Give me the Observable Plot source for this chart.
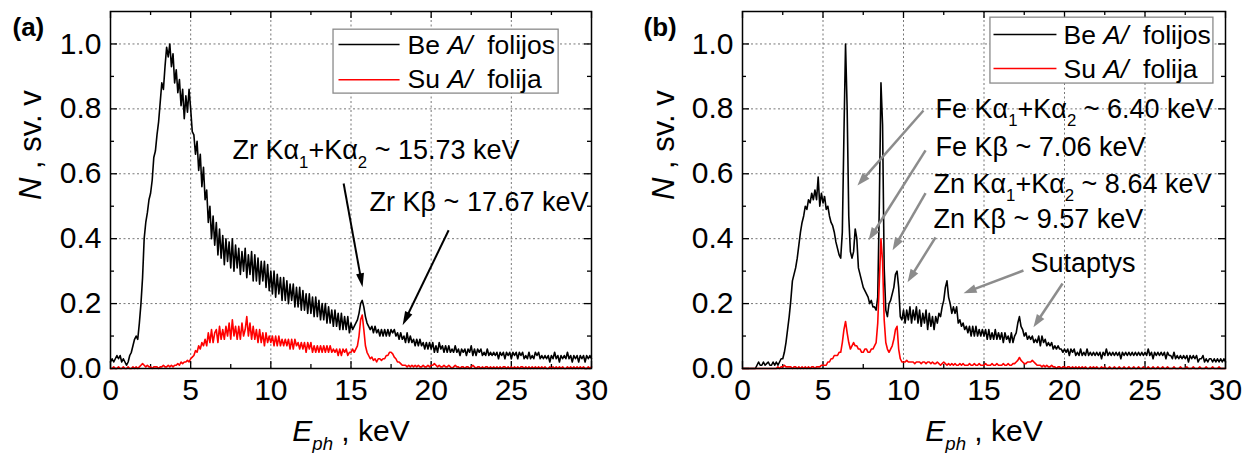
<!DOCTYPE html>
<html><head><meta charset="utf-8">
<script src="https://cdn.jsdelivr.net/npm/d3@7"></script>
<script src="https://cdn.jsdelivr.net/npm/@observablehq/plot@0.6"></script>
<style>
body{margin:0;background:#fff;}
#wrap{display:flex;width:1253px;height:453px;overflow:hidden;}
g[aria-label$="tick label"] text{font-size:30px;}
</style></head><body><div id="wrap"></div>
<script>
// energy step of the spectra (keV), first channel at 0 keV
const dE = 0.1;

// Panel (a): spectra, 0.0 ... 30.0 keV
const aBe = [
0.02,0.03,0.02,0.03,0.04,0.03,0.04,0.02,0.03,0.02,
0.01,0.02,0.04,0.05,0.07,0.09,0.10,0.09,0.14,0.20,
0.28,0.40,0.45,0.48,0.52,0.54,0.58,0.65,0.67,0.72,
0.76,0.82,0.88,0.86,0.93,0.99,0.96,1.00,0.93,0.97,
0.88,0.92,0.85,0.89,0.81,0.86,0.77,0.84,0.79,0.86,
0.80,0.73,0.72,0.66,0.70,0.61,0.66,0.56,0.62,0.52,
0.55,0.45,0.50,0.40,0.47,0.38,0.45,0.35,0.43,0.34,
0.41,0.32,0.40,0.33,0.39,0.31,0.40,0.30,0.38,0.31,
0.37,0.29,0.36,0.30,0.37,0.28,0.35,0.29,0.36,0.27,
0.35,0.27,0.34,0.26,0.33,0.27,0.33,0.25,0.32,0.24,
0.30,0.23,0.30,0.22,0.29,0.23,0.28,0.21,0.28,0.21,
0.27,0.20,0.26,0.21,0.26,0.19,0.25,0.19,0.25,0.18,
0.24,0.18,0.23,0.17,0.23,0.17,0.22,0.16,0.22,0.16,
0.21,0.15,0.20,0.15,0.20,0.14,0.19,0.14,0.18,0.13,
0.18,0.13,0.17,0.12,0.17,0.12,0.16,0.12,0.16,0.11,
0.14,0.12,0.13,0.14,0.15,0.17,0.20,0.21,0.19,0.16,
0.14,0.13,0.12,0.13,0.11,0.13,0.11,0.12,0.10,0.12,
0.10,0.12,0.10,0.12,0.10,0.12,0.11,0.12,0.10,0.11,
0.09,0.11,0.09,0.10,0.08,0.11,0.08,0.10,0.08,0.09,
0.07,0.09,0.07,0.09,0.07,0.08,0.06,0.08,0.06,0.08,
0.06,0.08,0.05,0.07,0.05,0.08,0.06,0.07,0.05,0.07,
0.05,0.07,0.05,0.06,0.05,0.07,0.05,0.06,0.04,0.06,
0.05,0.06,0.04,0.06,0.05,0.07,0.04,0.06,0.04,0.06,
0.05,0.06,0.04,0.05,0.04,0.06,0.04,0.05,0.04,0.05,
0.04,0.05,0.03,0.05,0.04,0.05,0.03,0.05,0.04,0.05,
0.03,0.05,0.04,0.05,0.03,0.05,0.04,0.05,0.03,0.04,
0.03,0.05,0.03,0.04,0.03,0.05,0.04,0.05,0.03,0.04,
0.03,0.04,0.03,0.04,0.02,0.04,0.03,0.05,0.03,0.04,
0.02,0.04,0.03,0.04,0.03,0.05,0.03,0.04,0.02,0.04,
0.03,0.04,0.02,0.04,0.03,0.04,0.02,0.04,0.03,0.04,
0.03];
const aSu = [
0,0,0.005,0,0,0.005,0,0,0.005,0,
0,0.005,0,0,0.005,0,0.005,0,0.005,0.01,
0.015,0.01,0.005,0.01,0.005,0.005,0,0.005,0.005,0.005,
0,0.005,0.005,0.01,0.005,0.005,0.01,0.005,0.01,0.005,
0.01,0.01,0.015,0.01,0.02,0.015,0.02,0.02,0.025,0.02,
0.03,0.035,0.04,0.055,0.05,0.07,0.06,0.08,0.07,0.09,
0.07,0.11,0.08,0.12,0.08,0.11,0.12,0.08,0.13,0.09,
0.12,0.09,0.13,0.10,0.14,0.09,0.15,0.10,0.13,0.09,
0.13,0.09,0.14,0.10,0.12,0.16,0.10,0.14,0.09,0.13,
0.09,0.12,0.08,0.12,0.08,0.11,0.07,0.11,0.08,0.10,
0.08,0.10,0.07,0.10,0.07,0.10,0.07,0.09,0.07,0.09,
0.07,0.09,0.06,0.09,0.06,0.09,0.07,0.08,0.06,0.08,
0.06,0.08,0.05,0.08,0.06,0.08,0.05,0.07,0.05,0.07,
0.05,0.07,0.05,0.07,0.05,0.07,0.05,0.07,0.05,0.06,
0.05,0.06,0.04,0.06,0.04,0.06,0.05,0.06,0.04,0.05,
0.05,0.06,0.05,0.06,0.07,0.10,0.15,0.165,0.12,0.07,
0.05,0.04,0.03,0.035,0.025,0.03,0.02,0.03,0.03,0.025,
0.03,0.03,0.04,0.04,0.05,0.05,0.045,0.035,0.03,0.02,
0.02,0.015,0.01,0.01,0.01,0.005,0.01,0.005,0.01,0.005,
0.01,0.005,0.01,0.005,0.005,0.01,0.005,0.005,0.01,0.005,
0.01,0.01,0.015,0.01,0.005,0.01,0.005,0.005,0.01,0.005,
0.005,0.01,0.005,0,0.005,0.01,0.005,0.005,0,0.005,
0.005,0,0.005,0.005,0,0.005,0.01,0.005,0,0.005,
0.005,0,0.005,0,0.005,0.005,0,0.005,0,0.005,
0,0.005,0,0.005,0,0.005,0.005,0,0.005,0,
0.005,0,0.005,0,0.005,0,0.005,0.005,0,0.005,
0,0.005,0,0.005,0,0.005,0,0.005,0,0.005,
0,0.005,0,0,0.005,0,0.005,0,0.005,0,
0.005,0,0.005,0,0,0.005,0,0.005,0,0.005,
0,0.005,0,0.005,0,0.005,0,0,0.005,0,
0.005];

// Panel (b): spectra, 0.0 ... 30.0 keV
const bBe = [
0,0,0,0,0,0,0,0,0,0.01,
0.02,0.01,0.01,0.02,0.01,0.015,0.02,0.01,0.01,0.02,
0.01,0.02,0.01,0.02,0.03,0.03,0.05,0.08,0.12,0.16,
0.21,0.27,0.29,0.31,0.34,0.38,0.42,0.45,0.47,0.50,
0.49,0.52,0.51,0.54,0.52,0.55,0.52,0.59,0.50,0.54,
0.51,0.53,0.49,0.50,0.47,0.45,0.44,0.42,0.39,0.37,
0.35,0.34,0.42,0.72,1.00,0.80,0.47,0.36,0.34,0.36,
0.43,0.40,0.31,0.29,0.27,0.25,0.24,0.23,0.22,0.20,
0.21,0.19,0.19,0.18,0.22,0.51,0.88,0.75,0.31,0.18,
0.16,0.20,0.21,0.23,0.25,0.29,0.30,0.25,0.16,0.15,
0.18,0.14,0.18,0.15,0.19,0.14,0.18,0.15,0.19,0.14,
0.18,0.13,0.17,0.14,0.18,0.12,0.17,0.13,0.16,0.12,
0.16,0.14,0.17,0.16,0.19,0.21,0.25,0.27,0.22,0.20,
0.17,0.19,0.17,0.19,0.14,0.15,0.13,0.14,0.12,0.13,
0.11,0.13,0.10,0.13,0.10,0.13,0.10,0.12,0.10,0.12,
0.10,0.12,0.09,0.12,0.09,0.11,0.09,0.12,0.09,0.11,
0.09,0.11,0.08,0.11,0.09,0.10,0.08,0.11,0.08,0.10,
0.11,0.14,0.16,0.13,0.12,0.10,0.11,0.09,0.10,0.09,
0.10,0.08,0.09,0.08,0.10,0.07,0.10,0.08,0.09,0.07,
0.08,0.07,0.08,0.06,0.07,0.06,0.07,0.06,0.06,0.05,
0.06,0.05,0.06,0.04,0.06,0.05,0.06,0.04,0.05,0.04,
0.06,0.04,0.05,0.04,0.06,0.04,0.05,0.04,0.05,0.04,
0.05,0.04,0.05,0.03,0.05,0.04,0.06,0.04,0.05,0.04,
0.05,0.04,0.05,0.04,0.05,0.03,0.05,0.04,0.05,0.04,
0.05,0.04,0.05,0.04,0.05,0.04,0.05,0.04,0.05,0.04,
0.05,0.04,0.06,0.04,0.05,0.03,0.05,0.04,0.05,0.04,
0.05,0.04,0.05,0.03,0.05,0.04,0.04,0.03,0.05,0.03,
0.04,0.03,0.04,0.03,0.04,0.03,0.04,0.02,0.04,0.03,
0.04,0.03,0.04,0.02,0.03,0.03,0.04,0.02,0.03,0.02,
0.03,0.03,0.02,0.03,0.02,0.03,0.02,0.03,0.02,0.03,
0.02];
const bSu = [
0,0,0,0,0,0,0,0,0,0,
0,0,0,0,0,0,0,0,0,0,
0,0,0.005,0,0.005,0.005,0.01,0.005,0.005,0.005,
0.005,0,0.005,0.005,0,0.005,0,0.005,0,0.005,
0,0.005,0,0.005,0.005,0,0.005,0.005,0.005,0.01,
0.01,0.01,0.01,0.02,0.02,0.03,0.03,0.04,0.04,0.04,
0.05,0.05,0.08,0.12,0.145,0.11,0.08,0.06,0.07,0.08,
0.07,0.07,0.06,0.06,0.05,0.05,0.06,0.06,0.05,0.05,
0.06,0.06,0.07,0.08,0.14,0.27,0.40,0.33,0.15,0.08,
0.06,0.05,0.06,0.07,0.09,0.12,0.13,0.06,0.03,0.02,
0.02,0.02,0.025,0.02,0.02,0.02,0.02,0.015,0.02,0.02,
0.02,0.015,0.02,0.02,0.015,0.02,0.02,0.015,0.02,0.015,
0.015,0.02,0.015,0.01,0.015,0.02,0.015,0.01,0.015,0.01,
0.015,0.01,0.015,0.01,0.01,0.015,0.01,0.015,0.01,0.01,
0.01,0.015,0.01,0.01,0.015,0.01,0.01,0.015,0.01,0.01,
0.01,0.015,0.01,0.01,0.01,0.015,0.01,0.01,0.015,0.01,
0.01,0.01,0.015,0.01,0.01,0.015,0.01,0.01,0.015,0.015,
0.02,0.025,0.034,0.025,0.02,0.015,0.015,0.02,0.02,0.02,
0.025,0.02,0.015,0.01,0.01,0.01,0.005,0.01,0.005,0.01,
0.005,0.005,0.01,0.005,0.005,0,0.005,0.005,0,0.005,
0.005,0,0.005,0.005,0,0.005,0,0.005,0,0.005,
0,0.005,0,0.005,0,0,0.005,0,0.005,0,
0.005,0,0,0.005,0,0.005,0,0,0.005,0,
0,0.005,0,0,0.005,0,0,0.005,0,0,
0.005,0,0,0.005,0,0,0.005,0,0,0.005,
0,0,0.005,0,0,0.005,0,0,0.005,0,
0,0.005,0,0,0.005,0,0,0,0.005,0,
0,0,0.005,0,0,0,0.005,0,0,0,
0.005,0,0,0,0.005,0,0,0,0.005,0,
0,0,0.005,0,0,0,0.005,0,0,0,
0];

// ticks
const xMajor = [0, 5, 10, 15, 20, 25, 30];
const xMinor = [2.5, 7.5, 12.5, 17.5, 22.5, 27.5];
const xGrid = [5, 10, 15, 20, 25];
const yMajor = [0, 0.2, 0.4, 0.6, 0.8, 1.0];
const yMinor = [0.1, 0.3, 0.5, 0.7, 0.9];
const yGrid = [0.2, 0.4, 0.6, 0.8, 1.0];

// texts  ({/x} italic, {_x} subscript, {_/x} italic subscript)
const legendLabels = ["Be {/A/}  folijos", "Su {/A/}  folija"];
const xTitle = "{/E}{_/ph} , keV";
const yTitle = "{/N} , sv. v";

// annotations (in keV / N units)
const notesA = [
  {x: 7.61, y: 0.644, t: "Zr Kα{_1}+Kα{_2} ~ 15.73 keV"},
  {x: 16.16, y: 0.484, t: "Zr Kβ ~ 17.67 keV"}
];
const arrowsA = [
  {x1: 14.54, y1: 0.570, x2: 15.72, y2: 0.250},
  {x1: 21.09, y1: 0.426, x2: 18.22, y2: 0.133}
];
const notesB = [
  {x: 11.99, y: 0.773, t: "Fe Kα{_1}+Kα{_2} ~ 6.40 keV"},
  {x: 11.99, y: 0.656, t: "Fe Kβ ~ 7.06 keV"},
  {x: 11.86, y: 0.542, t: "Zn Kα{_1}+Kα{_2} ~ 8.64 keV"},
  {x: 11.86, y: 0.432, t: "Zn Kβ ~ 9.57 keV"},
  {x: 17.89, y: 0.296, t: "Sutaptys"}
];
const arrowsB = [
  {x1: 11.24, y1: 0.795, x2: 7.14, y2: 0.564},
  {x1: 11.37, y1: 0.672, x2: 7.83, y2: 0.395},
  {x1: 11.37, y1: 0.540, x2: 9.32, y2: 0.364},
  {x1: 11.99, y1: 0.404, x2: 10.25, y2: 0.266},
  {x1: 17.45, y1: 0.302, x2: 13.73, y2: 0.232},
  {x1: 19.88, y1: 0.262, x2: 18.07, y2: 0.127}
];

const FONT = "'Liberation Sans', Arial, sans-serif";

function richText(svg) {
  svg.querySelectorAll("text").forEach(t => {
    const s = t.textContent;
    if (!s.includes("{")) return;
    t.textContent = "";
    t.style.whiteSpace = "pre";
    const re = /\{(_?)(\/?)([^}]*)\}|([^{]+)/g;
    let m, shifted = false;
    while ((m = re.exec(s))) {
      const ts = document.createElementNS("http://www.w3.org/2000/svg", "tspan");
      const plain = m[4] !== undefined;
      const isSub = !plain && m[1] === "_";
      ts.textContent = plain ? m[4] : m[3];
      if (!plain && m[2] === "/") ts.setAttribute("font-style", "italic");
      if (isSub) ts.setAttribute("font-size", "62%");
      if (isSub && !shifted) { ts.setAttribute("dy", "0.5em"); shifted = true; }
      else if (!isSub && shifted) { ts.setAttribute("dy", "-0.31em"); shifted = false; }
      t.appendChild(ts);
    }
  });
}

function panel(o) {
  const H = 453, mt = 11, mb = 85;
  const innerW = o.width - o.ml - o.mr, innerH = H - mt - mb;
  const kx = innerW / 30, ky = innerH / 1.1;
  const be = o.be.map((v, i) => ({E: i * dE, N: v}));
  const su = o.su.map((v, i) => ({E: i * dE, N: v}));
  const L = o.headL, Wd = o.headW;
  const head = {draw(ctx) { ctx.moveTo(0, 0); ctx.lineTo(-Wd / 2, L); ctx.lineTo(Wd / 2, L); ctx.closePath(); }};
  const arr = o.arrows.map(a => {
    const sx = (a.x2 - a.x1) * kx, sy = -(a.y2 - a.y1) * ky;
    const n = Math.hypot(sx, sy), ux = sx / n, uy = sy / n, back = L * 0.6;
    return {...a, ang: Math.atan2(sx, -sy) * 180 / Math.PI, ex: a.x2 - ux * back / kx, ey: a.y2 + uy * back / ky};
  });
  const lg = o.legend;
  const svg = Plot.plot({
    width: o.width, height: H,
    marginLeft: o.ml, marginRight: o.mr, marginTop: mt, marginBottom: mb,
    x: {domain: [0, 30]},
    y: {domain: [0, 1.1]},
    style: {fontFamily: FONT, background: "white", overflow: "visible", color: "#000"},
    marks: [
      Plot.gridX(xGrid, {stroke: "#777", strokeOpacity: 1, strokeWidth: 1, strokeDasharray: "2,2.5"}),
      Plot.gridY(yGrid, {stroke: "#777", strokeOpacity: 1, strokeWidth: 1, strokeDasharray: "2,2.5"}),
      Plot.ruleX(xMajor, {x: d => d, insetTop: innerH - 7, stroke: "#000", strokeWidth: 1.3}),
      Plot.ruleX(xMinor, {x: d => d, insetTop: innerH - 4, stroke: "#000", strokeWidth: 1.3}),
      Plot.ruleX(xMajor, {x: d => d, insetBottom: innerH - 7, stroke: "#000", strokeWidth: 1.3}),
      Plot.ruleX(xMinor, {x: d => d, insetBottom: innerH - 4, stroke: "#000", strokeWidth: 1.3}),
      Plot.ruleY(yMajor, {y: d => d, insetRight: innerW - 7, stroke: "#000", strokeWidth: 1.3}),
      Plot.ruleY(yMinor, {y: d => d, insetRight: innerW - 4, stroke: "#000", strokeWidth: 1.3}),
      Plot.ruleY(yMajor, {y: d => d, insetLeft: innerW - 7, stroke: "#000", strokeWidth: 1.3}),
      Plot.ruleY(yMinor, {y: d => d, insetLeft: innerW - 4, stroke: "#000", strokeWidth: 1.3}),
      Plot.line(be, {x: "E", y: "N", stroke: "#000", strokeWidth: 1.6}),
      Plot.line(su, {x: "E", y: "N", stroke: "#ff0000", strokeWidth: 1.6}),
      Plot.rect([0], {x1: lg.bx1, x2: lg.bx2, y1: lg.by1, y2: lg.by2, fill: "white", stroke: "#8a8a8a", strokeWidth: 1.3}),
      Plot.link([0], {x1: lg.lx1, x2: lg.lx2, y1: lg.ly[0], y2: lg.ly[0], stroke: "#000", strokeWidth: 1.5}),
      Plot.link([0], {x1: lg.lx1, x2: lg.lx2, y1: lg.ly[1], y2: lg.ly[1], stroke: "#ff0000", strokeWidth: 1.5}),
      Plot.text(legendLabels, {x: lg.tx, y: (d, i) => lg.ty[i], text: d => d, textAnchor: "start", lineAnchor: "bottom", fontSize: 26.5}),
      Plot.text(o.notes, {x: "x", y: "y", text: "t", textAnchor: "start", lineAnchor: "bottom", fontSize: 27}),
      Plot.link(arr, {x1: "x1", y1: "y1", x2: "ex", y2: "ey", stroke: o.arrowColor, strokeWidth: o.shaftW}),
      Plot.dot(arr, {x: "x2", y: "y2", rotate: "ang", symbol: head, r: 5, fill: o.arrowColor, stroke: "none"}),
      Plot.frame({stroke: "#000", strokeWidth: 1.5}),
      Plot.axisX(xMajor, {tickSize: 0, tickPadding: 10, fontSize: 30, tickFormat: d => String(d), label: null}),
      Plot.axisY(yMajor, {tickSize: 0, tickPadding: 9, fontSize: 30, tickFormat: d3.format(".1f"), label: null}),
      Plot.text([xTitle], {text: d => d, frameAnchor: "bottom", dy: 72, lineAnchor: "bottom", fontSize: 30}),
      Plot.text([yTitle], {text: d => d, frameAnchor: "left", dx: o.yTitleDx, dy: 10, rotate: -90, lineAnchor: "bottom", fontSize: 31}),
      Plot.text([o.tag], {text: d => d, frameAnchor: "top-left", dx: o.tagDx, dy: 24, textAnchor: "start", lineAnchor: "bottom", fontWeight: "bold", fontSize: 26})
    ]
  });
  richText(svg);
  return svg;
}

const wrap = document.getElementById("wrap");
wrap.appendChild(panel({
  width: 626, ml: 110, mr: 35, be: aBe, su: aSu, tag: "(a)", tagDx: -98, yTitleDx: -70,
  notes: notesA, arrows: arrowsA, arrowColor: "#000", shaftW: 2, headL: 14, headW: 8,
  legend: {bx1: 13.91, bx2: 27.95, by1: 0.847, by2: 1.044, lx1: 14.22, lx2: 18.03, ly: [0.998, 0.890], tx: 18.53, ty: [0.970, 0.863]}
}));
wrap.appendChild(panel({
  width: 627, ml: 116, mr: 28, be: bBe, su: bSu, tag: "(b)", tagDx: -99, yTitleDx: -69,
  notes: notesB, arrows: arrowsB, arrowColor: "#8c8c8c", shaftW: 2.5, headL: 13, headW: 9,
  legend: {bx1: 15.40, bx2: 29.25, by1: 0.878, by2: 1.081, lx1: 15.59, lx2: 19.50, ly: [1.029, 0.924], tx: 19.94, ty: [1.001, 0.896]}
}));
</script>
</body></html>
